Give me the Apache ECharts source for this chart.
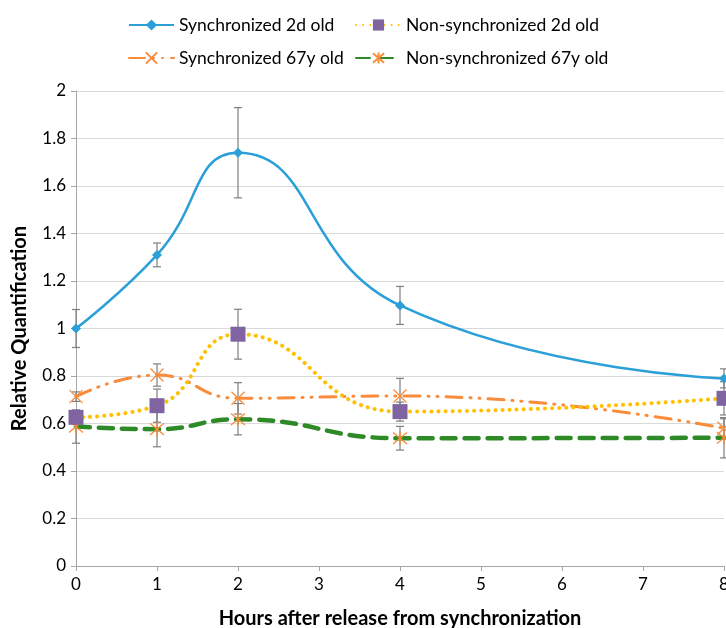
<!DOCTYPE html>
<html>
<head>
<meta charset="utf-8">
<script src="https://cdn.jsdelivr.net/npm/echarts@6/dist/echarts.min.js"></script>
<style>html,body{margin:0;padding:0;background:#fff;}#c{width:726px;height:628px;}</style>
</head>
<body>
<div id="c"></div>
<script>
var hours = [0, 1, 2, 4, 8];
var xTicks = [0, 1, 2, 3, 4, 5, 6, 7, 8];
var yTicks = [0, 0.2, 0.4, 0.6, 0.8, 1, 1.2, 1.4, 1.6, 1.8, 2];
var seriesNames = ['Synchronized 2d old', 'Non-synchronized 2d old', 'Synchronized 67y old', 'Non-synchronized 67y old'];
var sync2d = [1.0, 1.31, 1.74, 1.097, 0.79];
var sync2dErr = [0.08, 0.05, 0.19, 0.08, 0.04];
var nonSync2d = [0.626, 0.675, 0.976, 0.65, 0.706];
var nonSync2dErr = [0.03, 0.07, 0.105, 0.04, 0.07];
var sync67y = [0.713, 0.804, 0.706, 0.716, 0.58];
var sync67yErr = [0.02, 0.047, 0.066, 0.074, 0.04];
var nonSync67y = [0.587, 0.576, 0.618, 0.538, 0.54];
var nonSync67yErr = [0.07, 0.074, 0.066, 0.05, 0.085];

var FONT = 'Lato, "Noto Sans", sans-serif';
function pts(vals) { return hours.map(function (h, i) { return [h, vals[i]]; }); }
function errPts(vals, errs) { return hours.map(function (h, i) { return [h, vals[i] - errs[i], vals[i] + errs[i]]; }); }

var crossPath = 'path://M0,0L10,10M10,0L0,10';
var starPath = 'path://M0,0L10,10M10,0L0,10M5,-1L5,11';

function errorSeries(vals, errs) {
  return {
    type: 'custom',
    silent: true,
    z: 1,
    data: errPts(vals, errs),
    encode: { x: 0, y: [1, 2] },
    renderItem: function (params, api) {
      var x = api.value(0);
      var lo = api.coord([x, api.value(1)]);
      var hi = api.coord([x, api.value(2)]);
      var w = 4;
      var st = { stroke: '#7f7f7f', lineWidth: 1.2 };
      return {
        type: 'group',
        children: [
          { type: 'line', shape: { x1: lo[0], y1: lo[1], x2: hi[0], y2: hi[1] }, style: st },
          { type: 'line', shape: { x1: lo[0] - w, y1: lo[1], x2: lo[0] + w, y2: lo[1] }, style: st },
          { type: 'line', shape: { x1: hi[0] - w, y1: hi[1], x2: hi[0] + w, y2: hi[1] }, style: st }
        ]
      };
    }
  };
}

var legendBase = {
  itemWidth: 45, itemHeight: 14, itemGap: 5, padding: 0,
  textStyle: { fontFamily: FONT, fontSize: 17.5, color: '#000' }
};
function lg(name, left, top) {
  return Object.assign({}, legendBase, { data: [name], left: left, top: top });
}

var chart = echarts.init(document.getElementById('c'));
chart.setOption({
  animation: false,
  legend: [
    lg(seriesNames[0], 128, 16),
    lg(seriesNames[1], 355, 16),
    lg(seriesNames[2], 128, 49),
    lg(seriesNames[3], 355, 49)
  ],
  grid: { left: 76, right: 2, top: 91, bottom: 62, containLabel: false, outerBoundsMode: 'none' },
  xAxis: {
    type: 'value', min: 0, max: 8, interval: 1,
    name: 'Hours after release from synchronization',
    nameLocation: 'middle', nameGap: 43,
    nameTextStyle: { fontFamily: FONT, fontSize: 20, fontWeight: 'bold', color: '#000' },
    axisLine: { show: true, lineStyle: { color: '#a6a6a6', width: 1 } },
    axisTick: { show: true, length: 5, lineStyle: { color: '#a6a6a6' } },
    axisLabel: { fontFamily: FONT, fontSize: 17, color: '#000', margin: 10,
      formatter: function (v) { return xTicks.indexOf(v) >= 0 ? String(v) : ''; } },
    splitLine: { show: false }
  },
  yAxis: {
    type: 'value', min: 0, max: 2, interval: 0.2,
    name: 'Relative Quantification',
    nameLocation: 'middle', nameGap: 46,
    nameTextStyle: { fontFamily: FONT, fontSize: 20, fontWeight: 'bold', color: '#000' },
    axisLine: { show: true, lineStyle: { color: '#a6a6a6', width: 1 } },
    axisTick: { show: true, length: 5, lineStyle: { color: '#a6a6a6' } },
    axisLabel: { fontFamily: FONT, fontSize: 17, color: '#000', margin: 10,
      formatter: function (v) {
        var r = Math.round(v * 10) / 10;
        return yTicks.indexOf(r) >= 0 ? String(r) : '';
      } },
    splitLine: { show: true, lineStyle: { color: '#d9d9d9', width: 1 } }
  },
  series: [
    errorSeries(sync2d, sync2dErr),
    errorSeries(nonSync2d, nonSync2dErr),
    errorSeries(sync67y, sync67yErr),
    errorSeries(nonSync67y, nonSync67yErr),
    {
      name: seriesNames[0], type: 'line', smooth: 0.5, z: 3,
      data: pts(sync2d),
      symbol: 'diamond', symbolSize: 10,
      lineStyle: { color: '#2a9fd8', width: 2.5 },
      itemStyle: { color: '#2a9fd8' }
    },
    {
      name: seriesNames[1], type: 'line', smooth: 0.5, z: 4,
      data: pts(nonSync2d),
      symbol: 'rect', symbolSize: 15,
      lineStyle: { color: '#ffc000', width: 4, type: [0.1, 7], cap: 'round' },
      itemStyle: { color: '#8064a2' }
    },
    {
      name: seriesNames[2], type: 'line', smooth: 0.5, z: 3,
      data: pts(sync67y),
      symbol: crossPath, symbolSize: 13,
      lineStyle: { color: '#f98b3a', width: 3, type: [16, 8, 1, 8, 1, 8], cap: 'round' },
      itemStyle: { color: 'rgba(0,0,0,0)', borderColor: '#f98b3a', borderWidth: 1.3 }
    },
    {
      name: seriesNames[3], type: 'line', smooth: 0.5, z: 3,
      data: pts(nonSync67y),
      symbol: starPath, symbolSize: 14,
      lineStyle: { color: '#2d8a27', width: 4.5, type: [14, 9], cap: 'round' },
      itemStyle: { color: 'rgba(0,0,0,0)', borderColor: '#f98b3a', borderWidth: 1.3 }
    }
  ]
});
</script>
</body>
</html>
